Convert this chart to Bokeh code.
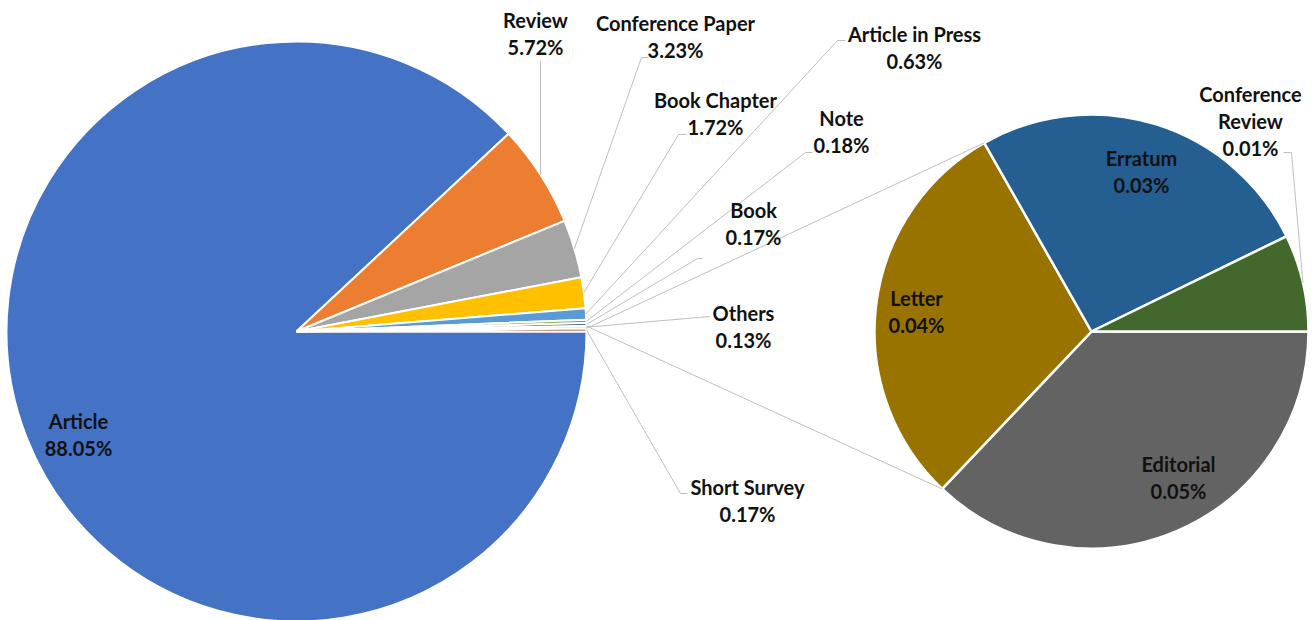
import numpy as np
from bokeh.plotting import figure
from bokeh.models import ColumnDataSource, Range1d
from bokeh.core.properties import value
from bokeh.embed import file_html
from bokeh.resources import INLINE

# ---------------- data ----------------
categories = ["Article", "Review", "Conference Paper", "Book Chapter", "Article in Press",
              "Note", "Book", "Others", "Short Survey"]
shares = [88.05, 5.72, 3.23, 1.72, 0.63, 0.18, 0.17, 0.13, 0.17]

other_categories = ["Editorial", "Letter", "Erratum", "Conference Review"]
other_shares = [0.0482, 0.0386, 0.0338, 0.0094]

# ---------------- style / layout ----------------
W, H = 1312, 620
colors = ["#4472C4", "#ED7D31", "#A5A5A5", "#FFC000", "#5B9BD5",
          "#70AD47", "#264478", "#BFBFBF", "#9E480E"]
other_colors = ["#636363", "#997300", "#255E91", "#43682B"]

C1 = (296, 331); R1 = 290          # main pie centre / radius (screen px, y down)
C2 = (1091, 331); R2 = 217         # secondary pie
FONT = value("Lato")
FS = "20px"
LINE_H = 27
LEAD = "#BFBFBF"

# label anchor (centre of first text line), screen coords
label_pos = {
    "Article": (78, 420), "Review": (535, 19), "Conference Paper": (675, 22),
    "Book Chapter": (715, 99), "Article in Press": (914, 33), "Note": (841, 117),
    "Book": (753, 209), "Others": (743, 312), "Short Survey": (747, 486),
}
# leader elbow points (screen coords), None = no leader
leader_pts = {
    "Article": None,
    "Review": [(540, 60)],
    "Conference Paper": [(641, 57), (648, 57)],
    "Book Chapter": [(678, 134), (686, 134)],
    "Article in Press": [(837, 40), (845, 40)],
    "Note": [(805, 152), (812, 152)],
    "Book": [(697, 258), (702, 258)],
    "Others": [(709, 316)],
    "Short Survey": [(680, 493), (687, 493)],
}
other_label_pos = {
    "Editorial": (1178, 463), "Letter": (916, 297), "Erratum": (1141, 157),
    "Conference Review": (1250, 93),
}
other_leader_pts = {"Conference Review": [(1291, 152), (1283, 152)]}

def sy(y):
    return H - y

p = figure(width=W, height=H, x_range=Range1d(0, W), y_range=Range1d(0, H),
           x_axis_type=None, y_axis_type=None, toolbar_location=None,
           output_backend="svg", min_border=0, outline_line_color=None,
           background_fill_color="white", border_fill_color="white")
p.grid.visible = False

def pie_angles(vals):
    v = np.array(vals, dtype=float)
    frac = v / v.sum()
    c1 = np.cumsum(frac)
    c0 = c1 - frac
    # clockwise from 3 o'clock
    start = -c1 * 2 * np.pi
    end = -c0 * 2 * np.pi
    return start, end, (start + end) / 2

# main pie
s1, e1, m1 = pie_angles(shares)
p.wedge(x=C1[0], y=sy(C1[1]), radius=R1, start_angle=s1, end_angle=e1,
        direction="anticlock", fill_color=colors, line_color="white", line_width=2)

# secondary pie
s2, e2, m2 = pie_angles(other_shares)
p.wedge(x=C2[0], y=sy(C2[1]), radius=R2, start_angle=s2, end_angle=e2,
        direction="anticlock", fill_color=other_colors, line_color="white", line_width=2.5)

# connector lines between "Others" slice and secondary pie
oi = categories.index("Others")
top_a, bot_a = e1[oi], s1[oi]
li = other_categories.index("Letter")
p2_top, p2_bot = e2[li], s2[li]
xs = [[C1[0] + R1 * np.cos(top_a), C2[0] + R2 * np.cos(p2_top)],
      [C1[0] + R1 * np.cos(bot_a), C2[0] + R2 * np.cos(p2_bot)]]
ys = [[sy(C1[1]) + R1 * np.sin(top_a), sy(C2[1]) + R2 * np.sin(p2_top)],
      [sy(C1[1]) + R1 * np.sin(bot_a), sy(C2[1]) + R2 * np.sin(p2_bot)]]
p.multi_line(xs=xs, ys=ys, line_color=LEAD, line_width=1)

# leader lines
lx, ly = [], []
for i, c in enumerate(categories):
    pts = leader_pts[c]
    if not pts:
        continue
    x0 = C1[0] + R1 * np.cos(m1[i]); y0 = sy(C1[1]) + R1 * np.sin(m1[i])
    lx.append([x0] + [q[0] for q in pts])
    ly.append([y0] + [sy(q[1]) for q in pts])
for i, c in enumerate(other_categories):
    pts = other_leader_pts.get(c)
    if not pts:
        continue
    x0 = C2[0] + R2 * np.cos(m2[i]); y0 = sy(C2[1]) + R2 * np.sin(m2[i])
    lx.append([x0] + [q[0] for q in pts])
    ly.append([y0] + [sy(q[1]) for q in pts])
p.multi_line(xs=lx, ys=ly, line_color=LEAD, line_width=1)

# labels
tx, ty, tt = [], [], []
def add_label(name, val, pos):
    words = ["Conference", "Review"] if name == "Conference Review" else [name]
    x, y = pos
    for k, w in enumerate(words):
        tx.append(x); ty.append(sy(y + k * LINE_H)); tt.append(w)
    tx.append(x); ty.append(sy(y + len(words) * LINE_H)); tt.append(f"{val:.2f}%")

for c, v in zip(categories, shares):
    add_label(c, v, label_pos[c])
for c, v in zip(other_categories, other_shares):
    add_label(c, v, other_label_pos[c])

src = ColumnDataSource(dict(x=tx, y=ty, t=tt))
p.text(x="x", y="y", text="t", source=src, text_font=FONT, text_font_size=FS,
       text_font_style="bold", text_color="#111111", text_align="center",
       text_baseline="middle")

open("out.html", "w").write(file_html(p, INLINE))
